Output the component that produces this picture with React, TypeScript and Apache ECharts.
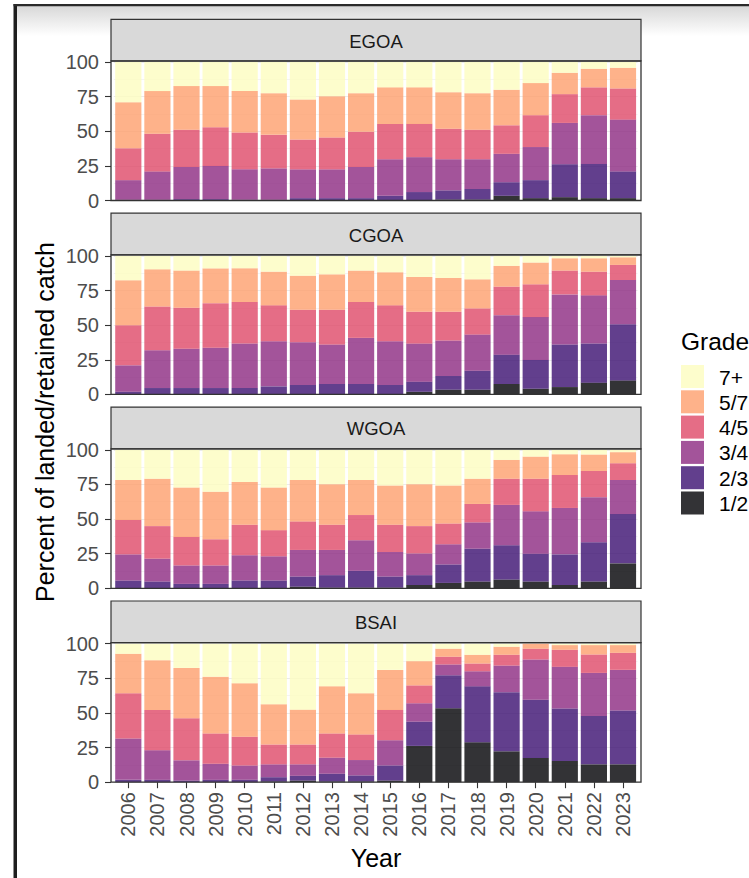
import React, { useEffect, useRef } from "react";
import * as echarts from "echarts";

const years = ["2006","2007","2008","2009","2010","2011","2012","2013","2014","2015","2016","2017","2018","2019","2020","2021","2022","2023"];
const grades = ["1/2", "2/3", "3/4", "4/5", "5/7", "7+"];
const gradeColors = ["#000004", "#3B0F70", "#8C2981", "#DE4968", "#FE9F6D", "#FCFDBF"];
const regions = ["EGOA", "CGOA", "WGOA", "BSAI"];
const yTicks = [0, 25, 50, 75, 100];

// Percent of landed/retained catch by grade (bottom to top)
const egoa12 = [0,0,0,0,0,0,0,0,0,0,0,0.7,0.7,3.4,1.7,2.4,1.7,1.7];
const egoa23 = [0.5,0.5,1,1,0.5,0.5,1.7,1.7,1.7,3.4,6.1,6.6,7.6,9.8,13.0,23.8,24.7,19.3];
const egoa34 = [14.2,20.5,23.2,24,22,22.7,20.8,20.8,22.5,26.4,25.2,22.5,21.5,20.5,23.9,29.8,35.2,37.4];
const egoa45 = [23.0,27.2,26.9,27.8,26.6,24.2,21.5,23.0,25.4,25.5,24.0,22.0,21.3,20.6,23.0,20.8,20.1,22.5];
const egoa57 = [33.2,30.8,31.5,29.8,29.9,30.1,28.9,29.8,27.9,26.4,26.4,26.4,26.4,25.7,23.2,15.4,13.4,14.9];
const egoa7p = [29.1,21,17.4,17.4,21,22.5,27.1,24.7,22.5,18.3,18.3,21.8,22.5,20,15.2,7.8,4.9,4.2];

const cgoa12 = [0,0,0,0,0,0,0,0,0,0,1.9,3.4,3.4,7.5,4.1,5.3,8.5,10.1];
const cgoa23 = [1.9,4.6,4.6,4.6,4.6,5.8,6.8,7.5,7.5,6.8,7.3,9.9,13.7,21.2,20.8,30.7,28.2,40.6];
const cgoa34 = [19.1,27.3,28.3,29.0,32.1,32.6,30.9,28.5,33.3,31.6,27.5,25.6,26.1,28.5,30.9,36.2,34.8,31.9];
const cgoa45 = [29.0,31.6,29.7,32.3,30.0,25.9,23.4,25.1,25.9,25.9,23.0,20.8,18.9,20.6,23.7,17.2,17.1,10.9];
const cgoa57 = [32.4,26.8,26.8,25.1,24.3,24.3,24.6,25.6,22.7,23.9,25.1,24.4,21.0,15.0,15.7,8.9,9.7,5.5];
const cgoa7p = [17.6,9.7,10.6,9,9,11.4,14.3,13.3,10.6,11.8,15.2,15.9,16.9,7.2,4.8,1.7,1.7,1];

const wgoa12 = [0,0,0,0,0,0,1.2,0.5,0.5,0.5,2.4,3.9,4.9,6.3,4.9,2.4,4.9,18];
const wgoa23 = [5.6,4.9,3.2,3.2,5.6,5.6,7.3,9.0,12.1,8.0,7.1,13.3,23.7,24.8,20.1,22.1,28.4,35.6];
const wgoa34 = [18.9,16.5,13.3,13.3,18.2,17.5,19.2,18.2,22.1,17.7,15.7,14.6,19.0,29.1,30.6,33.5,32.5,24.6];
const wgoa45 = [24.8,23.5,20.6,18.9,22.1,18.9,20.6,18.2,18.2,19.7,19.7,15.0,13.3,18.9,23.5,23.8,18.9,12.1];
const wgoa57 = [28.9,34.2,35.7,34.3,30.8,30.8,29.9,29.3,25.3,28.4,30.3,27.5,18.2,13.6,16.0,15.0,11.9,8.0];
const wgoa7p = [21.8,20.9,27.2,30.3,23.3,27.2,21.8,24.8,21.8,25.7,24.8,25.7,20.9,7.3,4.9,3.2,3.4,1.7];

const bsai12 = [0,0,0,0,0,0.5,1.2,0.5,0.5,1.2,26.2,53.4,28.9,22.3,17.5,15.3,12.9,12.9];
const bsai23 = [1.7,1.7,1.2,1.7,1.7,3.1,3.4,5.6,4.4,10.9,17.5,23.8,40.3,42.7,42.0,37.9,34.9,38.8];
const bsai34 = [29.9,21.4,14.6,11.6,10.4,9.3,8.3,11.6,11.1,18.2,13.3,7.8,10.9,19.2,29.1,30.1,31.1,29.4];
const bsai45 = [32.7,29.1,30.3,21.9,20.7,14.3,14.3,17.5,18.5,21.9,12.9,5.6,5.6,7.8,7.8,12.3,13.3,12.3];
const bsai57 = [28.4,35.9,36.4,41.0,38.6,29.1,25.2,34.0,29.8,28.9,17.5,5.8,6.3,5.8,3.6,3.4,6.8,5.6];
const bsai7p = [7.3,11.9,17.5,23.8,28.6,43.7,47.6,30.8,35.7,18.9,12.6,3.6,8,2.2,0,1,1,1];

const regionSeries = [
  [egoa12, egoa23, egoa34, egoa45, egoa57, egoa7p],
  [cgoa12, cgoa23, cgoa34, cgoa45, cgoa57, cgoa7p],
  [wgoa12, wgoa23, wgoa34, wgoa45, wgoa57, wgoa7p],
  [bsai12, bsai23, bsai34, bsai45, bsai57, bsai7p],
];

const FONT = "'Liberation Sans', Arial, Helvetica, sans-serif";

export default function App() {
  const ref = useRef<HTMLDivElement>(null);

  useEffect(() => {
    if (!ref.current) return;
    const chart = echarts.init(ref.current, null, { renderer: "svg" });

    const panelX0 = 111;
    const panelX1 = 641;
    const gridLeft = 113.75;
    const gridWidth = 523.8;
    const step = 193.9;
    const stripTop0 = 19.3;
    const stripH = 41.7;
    const plotH = 139.5;

    const grids: any[] = [];
    const xAxes: any[] = [];
    const yAxes: any[] = [];
    const series: any[] = [];
    const graphics: any[] = [];

    // window frame
    graphics.push({
      type: "rect",
      z: -10,
      shape: { x: 17, y: 6, width: 732, height: 30 },
      style: {
        fill: {
          type: "linear", x: 0, y: 0, x2: 0, y2: 1,
          colorStops: [
            { offset: 0, color: "#D8D8D8" },
            { offset: 1, color: "#FFFFFF" },
          ],
        },
      },
    });
    graphics.push({ type: "rect", z: 50, shape: { x: 13.5, y: 4, width: 3.5, height: 874 }, style: { fill: "#1E1E1E" } });
    graphics.push({ type: "rect", z: 50, shape: { x: 13.5, y: 4, width: 736, height: 2.2 }, style: { fill: "#2A2A2A" } });

    regions.forEach((name, k) => {
      const st = stripTop0 + k * step;
      const pt = st + stripH;
      grids.push({ left: gridLeft, width: gridWidth, top: pt + 1, height: plotH - 1 });
      xAxes.push({
        type: "category",
        gridIndex: k,
        data: years,
        axisLine: { show: false },
        axisTick: { show: k === 3, alignWithLabel: true, length: 6, lineStyle: { color: "#333333", width: 1.1 } },
        axisLabel: { show: k === 3, rotate: 90, margin: 10, fontSize: 20, color: "#4D4D4D", fontFamily: FONT },
        splitLine: { show: false },
      });
      yAxes.push({
        type: "value",
        gridIndex: k,
        min: 0,
        max: 100,
        interval: 25,
        offset: gridLeft - panelX0,
        axisLine: { show: false },
        axisTick: { show: true, length: 6, lineStyle: { color: "#333333", width: 1.1 } },
        axisLabel: { margin: 12, fontSize: 20, color: "#4D4D4D", fontFamily: FONT, customValues: yTicks },
        splitLine: { show: true, lineStyle: { color: "#EBEBEB", width: 1.1 } },
        minorTick: { show: false, splitNumber: 2 },
        minorSplitLine: { show: true, lineStyle: { color: "#EBEBEB", width: 0.55 } },
      });
      regionSeries[k].forEach((vals, g) => {
        series.push({
          type: "bar",
          name: grades[g],
          xAxisIndex: k,
          yAxisIndex: k,
          stack: "s" + k,
          data: vals,
          barCategoryGap: "10%",
          itemStyle: { color: gradeColors[g], opacity: 0.8 },
          emphasis: { disabled: true },
          silent: true,
        });
      });
      // strip
      graphics.push({
        type: "rect",
        z: 20,
        shape: { x: panelX0, y: st, width: panelX1 - panelX0, height: stripH },
        style: { fill: "#D9D9D9", stroke: "#333333", lineWidth: 1.2 },
      });
      graphics.push({
        type: "text",
        z: 21,
        x: (panelX0 + panelX1) / 2,
        y: st + stripH / 2 + 1,
        style: { text: name, fontSize: 18.5, fontFamily: FONT, fill: "#1A1A1A", align: "center", verticalAlign: "middle" },
      });
      // panel border
      graphics.push({
        type: "rect",
        z: 20,
        shape: { x: panelX0, y: pt, width: panelX1 - panelX0, height: plotH },
        style: { fill: "none", stroke: "#333333", lineWidth: 1.3 },
      });
    });

    // axis titles
    graphics.push({
      type: "text",
      z: 21,
      x: 45,
      y: 422,
      rotation: Math.PI / 2,
      style: { text: "Percent of landed/retained catch", fontSize: 25, fontFamily: FONT, fill: "#000000", align: "center", verticalAlign: "middle" },
    });
    graphics.push({
      type: "text",
      z: 21,
      x: (panelX0 + panelX1) / 2,
      y: 858,
      style: { text: "Year", fontSize: 25, fontFamily: FONT, fill: "#000000", align: "center", verticalAlign: "middle" },
    });

    // legend
    graphics.push({
      type: "text",
      z: 21,
      x: 681,
      y: 341,
      style: { text: "Grade", fontSize: 24.5, fontFamily: FONT, fill: "#000000", align: "left", verticalAlign: "middle" },
    });
    const legendOrder = [5, 4, 3, 2, 1, 0];
    legendOrder.forEach((g, i) => {
      const y = 365 + i * 25.3;
      graphics.push({
        type: "rect",
        z: 21,
        shape: { x: 681, y, width: 23, height: 23 },
        style: { fill: gradeColors[g], opacity: 0.8 },
      });
      graphics.push({
        type: "text",
        z: 21,
        x: 719,
        y: y + 12,
        style: { text: grades[g], fontSize: 21, fontFamily: FONT, fill: "#000000", align: "left", verticalAlign: "middle" },
      });
    });

    chart.setOption({
      animation: false,
      backgroundColor: "#FFFFFF",
      grid: grids,
      xAxis: xAxes,
      yAxis: yAxes,
      series,
      graphic: { elements: graphics },
    });

    return () => chart.dispose();
  }, []);

  return (
    <div
      ref={ref}
      style={{ position: "fixed", left: 0, top: 0, width: "749px", height: "878px" }}
    />
  );
}
